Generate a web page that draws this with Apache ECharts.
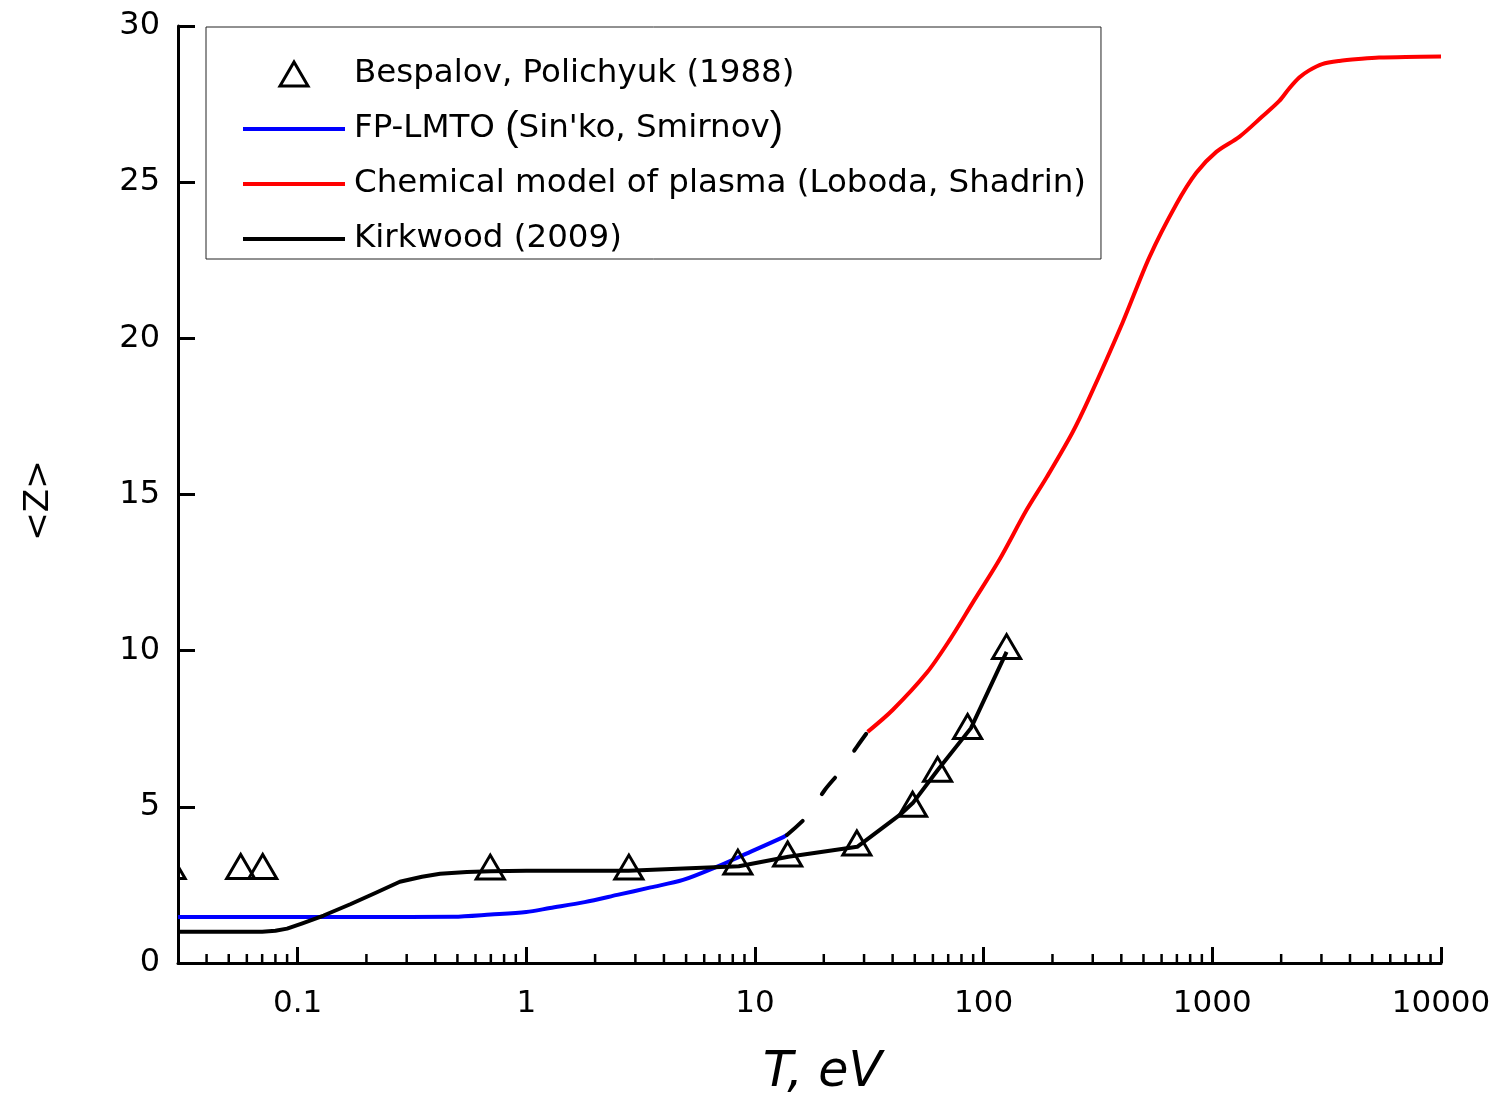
<!DOCTYPE html>
<html>
<head>
<meta charset="utf-8">
<script src="https://cdn.jsdelivr.net/npm/echarts@6/dist/echarts.min.js"></script>
<style>
html,body{margin:0;padding:0;background:#fff;}
#chart{width:1496px;height:1093px;}
</style>
</head>
<body>
<div id="chart"></div>
<script>
// ---- Data ----
const bespalovT = [0.028, 0.0564, 0.0704, 0.696, 2.81, 8.42, 13.9, 27.9, 48.9, 62.9, 85.1, 126];
const bespalovZ = [3.09, 3.09, 3.09, 3.07, 3.07, 3.23, 3.49, 3.84, 5.08, 6.2, 7.57, 10.13];

const lmtoT = [0.03, 0.2, 0.48, 0.7, 1, 1.27, 1.8, 2.5, 3.5, 4.85, 6.8, 9.5, 13.3, 13.8];
const lmtoZ = [1.47, 1.47, 1.48, 1.55, 1.63, 1.76, 1.95, 2.18, 2.42, 2.66, 3.08, 3.55, 4.03, 4.1];

const bridgeT = [13.8, 16.9, 20.2, 23.5, 27.9, 31.1];
const bridgeZ = [4.1, 4.7, 5.54, 6.12, 6.92, 7.4];

const chemT = [31.1, 40, 56.4, 71, 89.5, 117, 154, 189, 244, 290, 405, 531, 697, 851, 1041, 1312, 1653, 1963, 2168, 2400, 2652, 3022, 3587, 4500, 5360, 7000, 10000];
const chemZ = [7.4, 8.1, 9.29, 10.34, 11.53, 12.9, 14.5, 15.56, 16.97, 18.1, 20.5, 22.6, 24.3, 25.3, 25.97, 26.45, 27.1, 27.6, 28.0, 28.35, 28.58, 28.78, 28.88, 28.95, 28.99, 29.01, 29.02];

const kirkT = [0.03, 0.07, 0.08, 0.09, 0.105, 0.13, 0.17, 0.22, 0.28, 0.35, 0.42, 0.55, 0.7, 1, 2.8, 8.5, 14, 28, 43, 49, 63, 88, 126];
const kirkZ = [1.0, 1.0, 1.03, 1.1, 1.27, 1.52, 1.88, 2.25, 2.6, 2.76, 2.86, 2.91, 2.94, 2.95, 2.95, 3.1, 3.4, 3.72, 4.74, 5.12, 6.18, 7.52, 9.96];

const xTickLabels = ['0.1', '1', '10', '100', '1000', '10000'];
const yTickLabels = ['0', '5', '10', '15', '20', '25', '30'];
const minorMultiples = [2, 3, 4, 5, 6, 7, 8, 9];
const decades = [0.01, 0.1, 1, 10, 100, 1000];

const seriesNames = [
  'Bespalov, Polichyuk (1988)',
  'FP-LMTO (Sin\'ko, Smirnov)',
  'Chemical model of plasma (Loboda, Shadrin)',
  'Kirkwood (2009)'
];

// ---- helpers ----
const zip = (a, b) => a.map((v, i) => [v, b[i]]);
const X_MIN = 0.03, X_MAX = 10000;
const minorTicks = [];
decades.forEach(d => minorMultiples.forEach(m => {
  const v = d * m;
  if (v > X_MIN * 1.0001 && v < X_MAX) minorTicks.push([v, 0]);
}));

const FONT = 'DejaVu Sans';
const LW = 4;
const LINE_ICON = 'path://M0,0 L100,0 L100,4 L0,4 Z';
const chart = echarts.init(document.getElementById('chart'));

chart.setOption({
  backgroundColor: '#fff',
  animation: false,
  textStyle: {fontFamily: FONT, color: '#000'},
  grid: {left: 178, right: 55, top: 26, bottom: 130, containLabel: false, outerBoundsMode: 'none'},
  legend: {
    orient: 'vertical',
    left: 206,
    top: 27,
    padding: [27, 15, 0, 37],
    itemWidth: 102,
    itemHeight: 24,
    itemGap: 15,
    symbolKeepAspect: true,
    borderColor: '#222',
    borderWidth: 1,
    backgroundColor: '#fff',
    textStyle: {
      fontFamily: FONT, fontSize: 32.5, color: '#000', lineHeight: 40, padding: [0, 0, 0, 4],
      rich: {
        n: {fontFamily: FONT, fontSize: 32.5, color: '#000', lineHeight: 40},
        p: {fontFamily: 'Liberation Sans', fontSize: 40, color: '#000', lineHeight: 40}
      }
    },
    formatter: function (name) {
      if (name === seriesNames[1]) {
        return '{n|FP-LMTO }{p|(}{n|Sin\'ko, Smirnov}{p|)}';
      }
      return name;
    },
    data: [
      {name: seriesNames[0], icon: 'path://M0,24 L14,0 L28,24 Z',
        itemStyle: {color: 'none', borderColor: '#000', borderWidth: 3}},
      {name: seriesNames[1], icon: LINE_ICON, itemStyle: {color: '#0000ff', borderWidth: 0}},
      {name: seriesNames[2], icon: LINE_ICON, itemStyle: {color: '#ff0000', borderWidth: 0}},
      {name: seriesNames[3], icon: LINE_ICON, itemStyle: {color: '#000000', borderWidth: 0}}
    ]
  },
  xAxis: {
    type: 'log',
    logBase: 10,
    min: X_MIN,
    max: X_MAX,
    name: 'T, eV',
    nameLocation: 'middle',
    nameGap: 86,
    nameTextStyle: {fontFamily: FONT, fontSize: 49, fontStyle: 'italic', color: '#000', padding: [0, 0, 0, 26]},
    axisLine: {show: true, lineStyle: {color: '#000', width: 3}},
    axisTick: {show: true, inside: true, length: 16, lineStyle: {color: '#000', width: 3}},
    minorTick: {show: false},
    splitLine: {show: false},
    axisLabel: {
      fontFamily: FONT, fontSize: 31, color: '#000', margin: 25,
      formatter: function (v) {
        const s = xTickLabels.find(l => Math.abs(Math.log10(+l) - Math.log10(v)) < 1e-6);
        return s || '';
      }
    }
  },
  yAxis: {
    type: 'value',
    min: 0,
    max: 30,
    interval: 5,
    name: '<Z>',
    nameLocation: 'middle',
    nameRotate: 90,
    nameGap: 122,
    nameTextStyle: {fontFamily: FONT, fontSize: 34, color: '#000', padding: [0, 12, 0, 0]},
    axisLine: {show: true, lineStyle: {color: '#000', width: 3}},
    axisTick: {show: true, inside: true, length: 17, lineStyle: {color: '#000', width: 3}},
    splitLine: {show: false},
    axisLabel: {
      fontFamily: FONT, fontSize: 32, color: '#000', margin: 18,
      formatter: function (v) {
        const s = yTickLabels.find(l => Math.abs(+l - v) < 1e-6);
        return s === undefined ? '' : s;
      }
    }
  },
  series: [
    {
      name: 'minor ticks',
      type: 'custom',
      silent: true,
      clip: false,
      z: 5,
      data: minorTicks,
      encode: {x: 0, y: 1},
      renderItem: function (params, api) {
        const p = api.coord([api.value(0), api.value(1)]);
        return {
          type: 'line',
          shape: {x1: p[0], y1: p[1], x2: p[0], y2: p[1] - 9},
          style: {stroke: '#000', lineWidth: 2.5}
        };
      }
    },
    {
      name: seriesNames[2],
      type: 'line',
      data: zip(chemT, chemZ),
      symbol: 'none',
      smooth: 0.3,
      color: '#ff0000',
      lineStyle: {color: '#ff0000', width: LW, join: 'round'},
      z: 2
    },
    {
      name: seriesNames[1],
      type: 'line',
      data: zip(lmtoT, lmtoZ),
      symbol: 'none',
      smooth: 0.3,
      color: '#0000ff',
      lineStyle: {color: '#0000ff', width: LW, join: 'round'},
      z: 2
    },
    {
      name: 'connector',
      type: 'line',
      data: zip(bridgeT, bridgeZ),
      symbol: 'none',
      smooth: 0.3,
      color: '#000',
      lineStyle: {color: '#000', width: LW, type: [21, 33], cap: 'round'},
      z: 2
    },
    {
      name: seriesNames[3],
      type: 'line',
      data: zip(kirkT, kirkZ),
      symbol: 'none',
      smooth: false,
      color: '#000',
      lineStyle: {color: '#000', width: LW, join: 'round'},
      z: 3
    },
    {
      name: seriesNames[0],
      type: 'custom',
      clip: true,
      z: 4,
      data: zip(bespalovT, bespalovZ),
      encode: {x: 0, y: 1},
      itemStyle: {color: '#000'},
      renderItem: function (params, api) {
        const c = api.coord([api.value(0), api.value(1)]);
        return {
          type: 'polygon',
          shape: {points: [[c[0] - 14, c[1] + 12], [c[0], c[1] - 12], [c[0] + 14, c[1] + 12]]},
          style: {fill: 'none', stroke: '#000', lineWidth: 3, lineJoin: 'miter'}
        };
      }
    }
  ]
});
</script>
</body>
</html>
